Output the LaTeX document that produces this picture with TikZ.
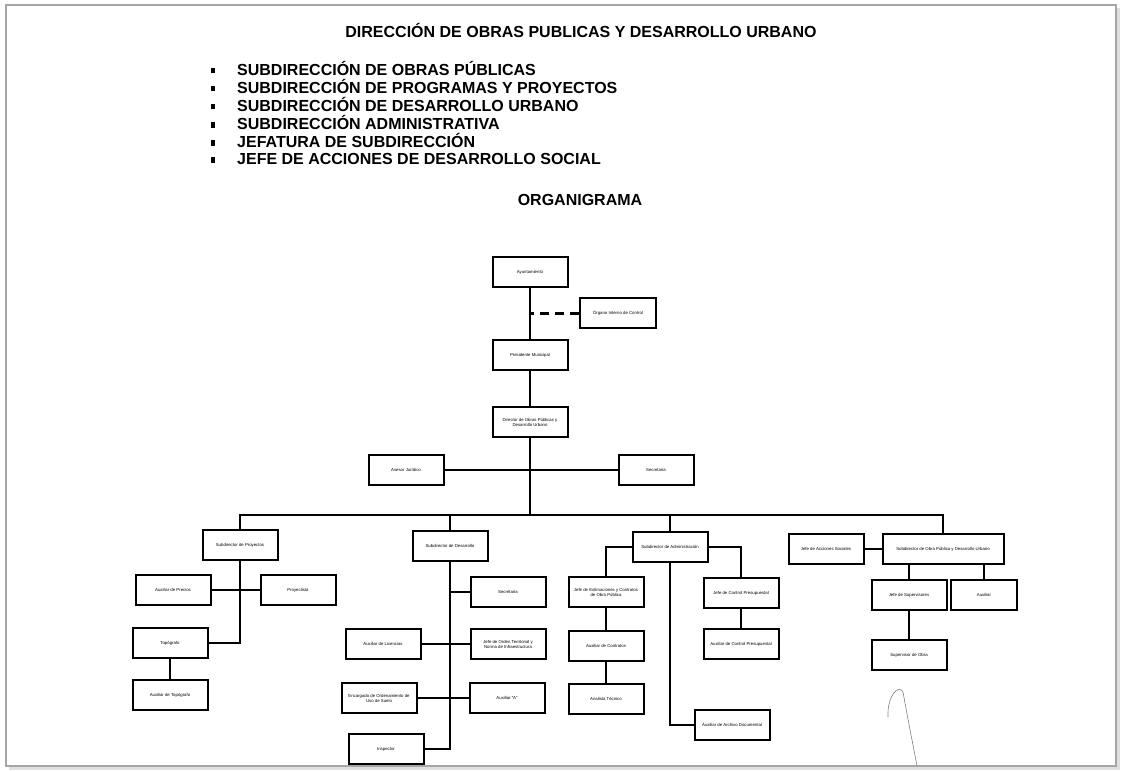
\documentclass[tikz,border=0pt]{standalone}
\usepackage{fontspec}
\setmainfont{Liberation Sans}
\usetikzlibrary{positioning}

\begin{document}
\begin{tikzpicture}
			[x=1pt,y=-1pt,
			 box/.style={draw,line width=2pt,minimum width=75pt,minimum height=30pt,inner sep=1pt,align=center,font=\fontsize{4.3}{5}\selectfont},
			 conn/.style={line width=1.6pt},
			 head/.style={font=\fontsize{16}{18}\selectfont\bfseries}]
			\useasboundingbox (0,0) rectangle (1122,771);
			% marco de la hoja
			\draw[gray!25,line width=3pt] (9,768) -- (1118,768) -- (1118,8);
			\draw[gray!70,line width=1.5pt] (6,5) rectangle (1116,766);
			
			\node[head] (title) at (581,30) {DIRECCIÓN DE OBRAS PUBLICAS Y DESARROLLO URBANO};
			\foreach \t [count=\i from 0] in 
			{SUBDIRECCIÓN DE OBRAS PÚBLICAS, SUBDIRECCIÓN DE PROGRAMAS Y PROYECTOS,
			 SUBDIRECCIÓN DE DESARROLLO URBANO, SUBDIRECCIÓN ADMINISTRATIVA,
			 JEFATURA DE SUBDIRECCIÓN, JEFE DE ACCIONES DE DESARROLLO SOCIAL}
			\node[head,anchor=west,inner sep=0pt] (item\i) at (211,68+18.2*\i) {\makebox[26pt][l]{\rule[2pt]{4pt}{5.5pt}}\t};
			\node[head] (orga) at (580,200) {ORGANIGRAMA};
			
			\node[box] (ayto) at (530,272) {Ayuntamiento};
			\node[box,minimum width=76pt] (oic) at (618,313) {Órgano Interno de Control};
			\node[box] (pres) at (530,355) {Presidente Municipal};
			\node[box] (dir) at (530,422) {Director de Obras Públicas y\\Desarrollo Urbano};
			\node[box] (ase) at (406,470) {Asesor Jurídico};
			\node[box] (secd) at (656,470) {Secretaria};
			\coordinate (bus) at (530,515);
			
			\node[box] (sp) at (240,545) {Subdirector de Proyectos};
			\node[box] (prec) at (173,590) {Auxiliar de Precios};
			\node[box] (proy) at (298,590) {Proyectista};
			\node[box] (topo) at (170,643) {Topógrafo};
			\node[box] (auxtopo) at (170,695) {Auxiliar de Topógrafo};
			
			\node[box] (sd) at (450,546) {Subdirector de Desarrollo};
			\node[box] (secs) at (508,592) {Secretaria};
			\node[box] (lic) at (383,644) {Auxiliar de Licencias};
			\node[box] (jot) at (508,644) {Jefe de Orden Territorial y\\Norma de Infraestructura};
			\node[box] (enc) at (379,698) {Encargado de Ordenamiento de\\Uso de Suelo};
			\node[box] (auxa) at (507,698) {Auxiliar “A”};
			\node[box] (insp) at (386,749) {Inspector};
			
			\node[box] (sa) at (670,547) {Subdirector de Administración};
			\node[box] (jest) at (606,592) {Jefe de Estimaciones y Contratos\\de Obra Pública};
			\node[box] (auxc) at (606,646) {Auxiliar de Contratos};
			\node[box] (anal) at (606,699) {Analista Técnico};
			\node[box] (jcp) at (741,593) {Jefe de Control Presupuestal};
			\node[box] (auxcp) at (741,644) {Auxiliar de Control Presupuestal};
			\node[box] (arch) at (732,725) {Auxiliar de Archivo Documental};
			
			\node[box,minimum width=121pt] (sop) at (943,549) {Subdirector de Obra Pública y Desarrollo Urbano};
			\node[box] (jas) at (826,549) {Jefe de Acciones Sociales};
			\node[box] (jsup) at (909,595) {Jefe de Supervisores};
			\node[box,minimum width=66pt] (aux) at (984,595) {Auxiliar};
			\node[box] (supo) at (909,655) {Supervisor de Obra};
			
			\draw[line width=3pt,dash pattern=on 9pt off 6pt] (oic.west) -- (oic.west -| ayto);
			\draw[conn] (dir.south) -- (bus);
			\foreach \n in {sp,sd,sa,sop}
			\draw[conn] (\n.north) -- (\n.north |- bus) -- (bus);
			
			\foreach \from/\to in 
			{ayto/pres, pres/dir, ase/secd, prec/proy, topo/auxtopo, lic/jot, enc/auxa,
			 jest/auxc, auxc/anal, jcp/auxcp, jas/sop, jsup/supo}
			\draw[conn] (\from) -- (\to);
			
			\draw[conn] (sp.south) |- (topo.east);
			\draw[conn] (sd.south) |- (insp.east);
			\draw[conn] (sd.south |- secs.west) -- (secs.west);
			\draw[conn] (sa.west) -| (jest.north);
			\draw[conn] (sa.east) -| (jcp.north);
			\draw[conn] (sa.south) |- (arch.west);
			\draw[conn] (sop.south -| jsup) -- (jsup.north);
			\draw[conn] (sop.south -| aux) -- (aux.north);
			
			% firma
			\draw[gray,line width=0.6pt] (888,717) .. controls (887,695) and (899,684) .. (903,692)
			  .. controls (908,720) and (914,750) .. (917,766);
			\end{tikzpicture}
\end{document}
